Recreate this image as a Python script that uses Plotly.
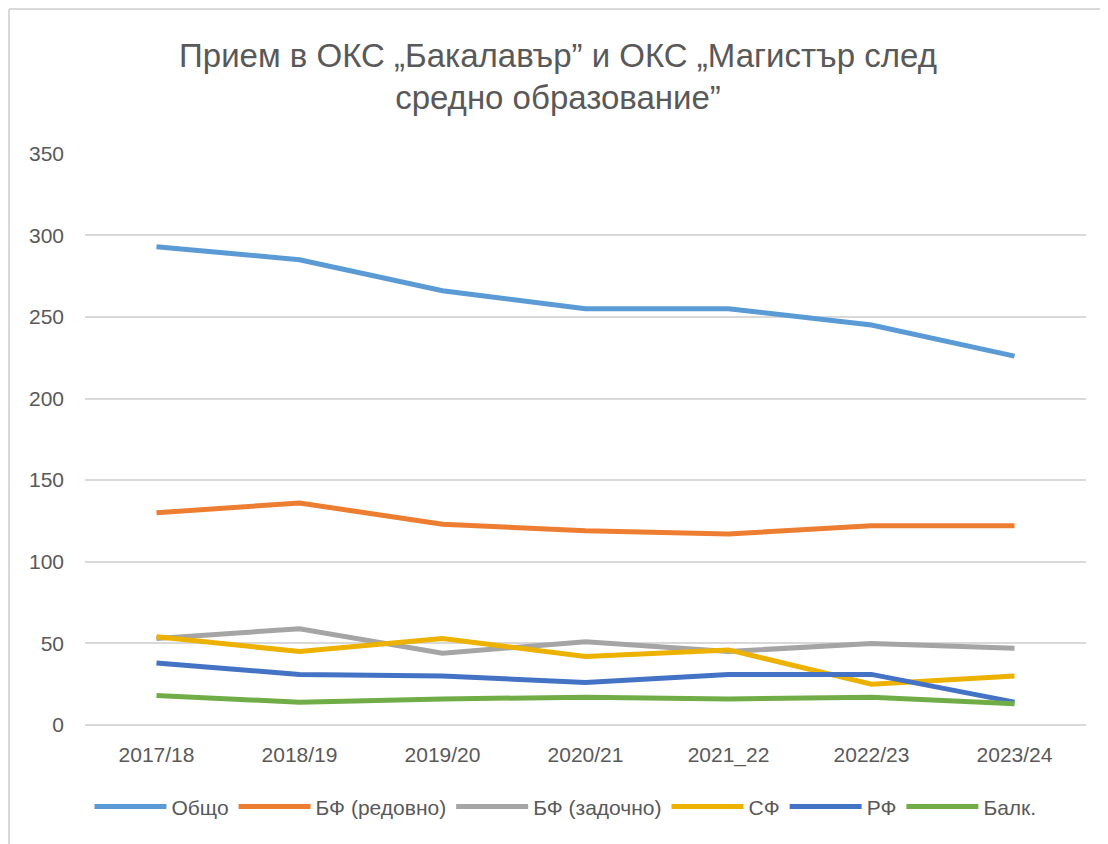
import plotly.graph_objects as go

categories = ["2017/18", "2018/19", "2019/20", "2020/21", "2021_22", "2022/23", "2023/24"]
obshto = [293, 285, 266, 255, 255, 245, 226]
bf_redovno = [130, 136, 123, 119, 117, 122, 122]
bf_zadochno = [53, 59, 44, 51, 45, 50, 47]
sf = [54, 45, 53, 42, 46, 25, 30]
rf = [38, 31, 30, 26, 31, 31, 14]
balk = [18, 14, 16, 17, 16, 17, 13]

series = [
    ("Общо", obshto, "#5B9BD5"),
    ("БФ (редовно)", bf_redovno, "#ED7D31"),
    ("БФ (задочно)", bf_zadochno, "#A5A5A5"),
    ("СФ", sf, "#EDB100"),
    ("РФ", rf, "#4472C4"),
    ("Балк.", balk, "#70AD47"),
]

fig = go.Figure()
for name, vals, color in series:
    fig.add_trace(go.Scatter(
        x=categories, y=vals, name=name, mode="lines",
        line=dict(color=color, width=5),
    ))

W, H = 1100, 836
ML, MR, MT, MB = 77, 22, 145, 119
PW, PH = W - ML - MR, H - MT - MB

font_family = "Liberation Sans, Arial, sans-serif"
border = dict(color="#D9D9D9", width=2)
fig.update_layout(
    width=W, height=H,
    paper_bgcolor="white", plot_bgcolor="white",
    margin=dict(l=ML, r=MR, t=MT, b=MB),
    title=dict(
        text="Прием в ОКС „Бакалавър” и ОКС „Магистър след<br>средно образование”",
        x=0.5, xanchor="center", y=0.93, yanchor="top",
        font=dict(family=font_family, size=33, color="#595959"),
    ),
    font=dict(family=font_family, size=21, color="#595959"),
    xaxis=dict(
        type="category", range=[-0.5, 6.5], showgrid=False,
        showline=False, ticks="", ticklabelstandoff=15,
        tickfont=dict(size=21, color="#595959"),
    ),
    yaxis=dict(
        range=[0, 350.4], dtick=50, showgrid=True, gridcolor="#D9D9D9", gridwidth=1.5,
        zeroline=True, zerolinecolor="#D9D9D9", zerolinewidth=1.5,
        showline=False, ticks="", ticklabelstandoff=20,
        tickfont=dict(size=21, color="#595959"),
    ),
    legend=dict(
        orientation="h", x=0.48, xanchor="center", y=-0.143, yanchor="middle",
        font=dict(size=21, color="#595959"), itemwidth=72,
    ),
    shapes=[
        dict(type="line", xref="paper", yref="paper",
             x0=(-ML + 1) / PW, x1=(PW + MR + 20) / PW,
             y0=1 + (MT - 1) / PH, y1=1 + (MT - 1) / PH, line=border),
        dict(type="line", xref="paper", yref="paper",
             x0=(-ML + 1) / PW, x1=(-ML + 1) / PW,
             y0=-(MB + 20) / PH, y1=1 + (MT - 1) / PH, line=border),
    ],
)

fig.write_html("out.html")
